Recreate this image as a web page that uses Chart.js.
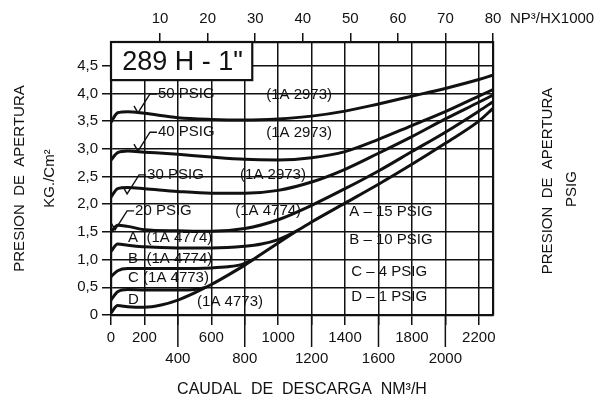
<!DOCTYPE html>
<html>
<head>
<meta charset="utf-8">
<script src="https://cdn.jsdelivr.net/npm/chart.js@4.4.1/dist/chart.umd.min.js"></script>
<style>
  html, body { margin: 0; padding: 0; background: #fff; }
</style>
</head>
<body>
<canvas id="chart" width="614" height="399"></canvas>
<script>
// Flow in NM3/H, opening pressure in kg/cm2
const flowMain = [0, 40, 100, 200, 400, 600, 800, 1000, 1200, 1400, 1600, 1800, 2000, 2200, 2285];
const psig50 = [3.48, 3.65, 3.67, 3.64, 3.56, 3.53, 3.52, 3.54, 3.59, 3.68, 3.81, 3.95, 4.09, 4.25, 4.33];
const psig40 = [2.8, 2.93, 2.96, 2.94, 2.9, 2.85, 2.81, 2.8, 2.84, 2.95, 3.17, 3.42, 3.67, 3.95, 4.07];
const psig30 = [2.13, 2.28, 2.3, 2.28, 2.23, 2.2, 2.2, 2.25, 2.4, 2.63, 2.92, 3.22, 3.54, 3.84, 3.97];
const psig20 = [1.5, 1.62, 1.6, 1.54, 1.52, 1.51, 1.56, 1.72, 1.98, 2.28, 2.6, 2.95, 3.3, 3.68, 3.85];

const flowA = [0, 40, 100, 200, 400, 600, 800, 900, 1000, 1100, 1200, 1400, 1600, 1800, 2000, 2200, 2285];
const psigA = [1.15, 1.28, 1.26, 1.23, 1.21, 1.21, 1.24, 1.28, 1.36, 1.5, 1.68, 2.02, 2.36, 2.72, 3.1, 3.5, 3.73];
const flowB = [0, 40, 100, 200, 400, 600, 700, 780, 850];
const psigB = [0.69, 0.8, 0.84, 0.84, 0.84, 0.85, 0.87, 0.91, 1.0];
const flowC = [0, 40, 100, 200, 400, 500, 570];
const psigC = [0.27, 0.42, 0.46, 0.45, 0.45, 0.46, 0.5];
const flowD = [0, 40, 100, 200, 300, 400, 500, 600, 700, 800, 900, 1000, 1100];
const psigD = [0.04, 0.17, 0.15, 0.14, 0.18, 0.27, 0.4, 0.55, 0.72, 0.9, 1.1, 1.3, 1.5];

// axis ranges / ticks
const flowMax = 2285;
const kgMax = 4.928;
const psiPerKg = 14.2233;
const topMin = -0.33, topMax = 80;   // NP3/H x 1000
const flowTicksLow = [400, 800, 1200, 1600, 2000];   // printed on the second row
const psiTicks = [10, 20, 30, 40, 50, 60];

const INK = '#111';
const FONT = 'Liberation Sans';
Chart.defaults.font.family = FONT;
Chart.defaults.font.size = 15;
Chart.defaults.color = INK;

const pts = (xs, ys) => xs.map((q, i) => ({ x: q, y: ys[i] }));

const curve = (data) => ({
    data,
    borderColor: INK,
    borderWidth: 3,
    pointRadius: 0,
    fill: false,
    cubicInterpolationMode: 'monotone'
});

// text placed inside the plot, in data coordinates (flow, kg/cm2)
const notes = [
    { text: '50 PSIG', q: 281, p: 3.99, hook: true },
    { text: '(1A 2973)', q: 928, p: 3.97 },
    { text: '40 PSIG', q: 281, p: 3.30, hook: true },
    { text: '(1A 2973)', q: 928, p: 3.29 },
    { text: '30 PSIG', q: 216, p: 2.53, hook: true },
    { text: '(1A 2973)', q: 772, p: 2.53 },
    { text: '20 PSIG', q: 144, p: 1.88, hook: true },
    { text: '(1A 4774)', q: 743, p: 1.88 },
    { text: 'A  (1A 4774)', q: 102, p: 1.39 },
    { text: 'B  (1A 4774)', q: 102, p: 1.01 },
    { text: 'C (1A 4773)', q: 102, p: 0.67 },
    { text: 'D', q: 102, p: 0.27 },
    { text: '(1A 4773)', q: 515, p: 0.23 },
    { text: 'A \u2013 15 PSIG', q: 1425, p: 1.86 },
    { text: 'B \u2013 10 PSIG', q: 1425, p: 1.35 },
    { text: 'C \u2013 4 PSIG', q: 1437, p: 0.78 },
    { text: 'D \u2013 1 PSIG', q: 1437, p: 0.32 }
];

const titleBox = {
    id: 'titleBox',
    afterDatasetsDraw(chart) {
        const { ctx, chartArea, scales } = chart;
        const right = scales.x.getPixelForValue(845);
        const bottom = scales.y.getPixelForValue(4.24);
        ctx.save();
        ctx.fillStyle = '#fff';
        ctx.fillRect(chartArea.left, chartArea.top, right - chartArea.left, bottom - chartArea.top);
        ctx.strokeStyle = INK;
        ctx.lineWidth = 2.2;
        ctx.strokeRect(chartArea.left, chartArea.top, right - chartArea.left, bottom - chartArea.top);
        ctx.fillStyle = INK;
        ctx.font = '27px ' + FONT;
        ctx.textAlign = 'center';
        ctx.textBaseline = 'middle';
        ctx.fillText('289 H - 1"', (chartArea.left + right) / 2 + 1, (chartArea.top + bottom) / 2 + 1);
        ctx.restore();
    }
};

const overlay = {
    id: 'overlay',
    afterDraw(chart) {
        const { ctx, chartArea, scales } = chart;
        const x = scales.x, y = scales.y;
        ctx.save();
        ctx.strokeStyle = INK;
        ctx.fillStyle = INK;

        // longer ticks for the lower row of flow labels
        ctx.lineWidth = 1.5;
        flowTicksLow.forEach(v => {
            const px = x.getPixelForValue(v);
            ctx.beginPath();
            ctx.moveTo(px, chartArea.bottom);
            ctx.lineTo(px, chartArea.bottom + 32);
            ctx.stroke();
        });

        // curve labels
        ctx.font = '15px ' + FONT;
        ctx.textAlign = 'left';
        ctx.textBaseline = 'middle';
        notes.forEach(n => {
            const px = x.getPixelForValue(n.q);
            const py = y.getPixelForValue(n.p);
            ctx.fillText(n.text, px, py);
            if (n.hook) {
                ctx.lineWidth = 1.4;
                ctx.beginPath();
                ctx.moveTo(px - 1, py);
                ctx.lineTo(px - 8, py);
                ctx.lineTo(px - 20, py + 19);
                ctx.lineTo(px - 24, py + 12);
                ctx.stroke();
            }
        });

        // right axis title, reading bottom to top like the left one
        ctx.textAlign = 'center';
        ctx.save();
        ctx.translate(548, 181);
        ctx.rotate(-Math.PI / 2);
        ctx.fillText('PRESION  DE  APERTURA', 0, 0);
        ctx.restore();
        ctx.save();
        ctx.translate(572, 189);
        ctx.rotate(-Math.PI / 2);
        ctx.fillText('PSIG', 0, 0);
        ctx.restore();

        // unit of the top axis
        ctx.textAlign = 'left';
        ctx.fillText('NP\u00b3/HX1000', 510, 19);
        ctx.restore();
    }
};

const tickGrid = (onArea, len) => ({
    drawOnChartArea: onArea,
    color: INK,
    lineWidth: 1.5,
    tickLength: len,
    tickWidth: 1.5,
    tickColor: INK
});
const frame = { display: true, width: 2.2, color: INK };

new Chart(document.getElementById('chart'), {
    type: 'line',
    data: {
        datasets: [
            curve(pts(flowMain, psig50)),
            curve(pts(flowMain, psig40)),
            curve(pts(flowMain, psig30)),
            curve(pts(flowMain, psig20)),
            curve(pts(flowA, psigA)),
            curve(pts(flowB, psigB)),
            curve(pts(flowC, psigC)),
            curve(pts(flowD, psigD))
        ]
    },
    options: {
        responsive: false,
        animation: false,
        layout: { padding: 0 },
        plugins: {
            legend: { display: false },
            tooltip: { enabled: false }
        },
        scales: {
            x: {
                type: 'linear',
                position: 'bottom',
                min: 0,
                max: flowMax,
                grid: tickGrid(true, 10),
                border: frame,
                ticks: {
                    stepSize: 200,
                    includeBounds: false,
                    autoSkip: false,
                    maxRotation: 0,
                    padding: 2,
                    font: { size: 15, lineHeight: 1.4 },
                    callback: v => flowTicksLow.includes(v) ? ['', String(v)] : String(v)
                },
                title: {
                    display: true,
                    text: 'CAUDAL  DE  DESCARGA  NM\u00b3/H',
                    font: { size: 16 },
                    padding: { top: 0, bottom: 0 }
                },
                afterFit: s => { s.height = 84; }
            },
            xTop: {
                type: 'linear',
                position: 'top',
                min: topMin,
                max: topMax,
                grid: tickGrid(false, 9),
                border: frame,
                ticks: {
                    stepSize: 10,
                    includeBounds: false,
                    autoSkip: false,
                    maxRotation: 0,
                    padding: 5
                },
                afterBuildTicks: s => { s.ticks = s.ticks.filter(t => t.value > 0); },
                afterFit: s => { s.height = 42; }
            },
            y: {
                type: 'linear',
                position: 'left',
                min: 0,
                max: kgMax,
                grid: tickGrid(true, 9),
                border: frame,
                ticks: {
                    stepSize: 0.5,
                    includeBounds: false,
                    autoSkip: false,
                    padding: 4,
                    callback: v => v === 0 ? '0' : v.toFixed(1).replace('.', ',')
                },
                title: {
                    display: true,
                    text: ['PRESION  DE  APERTURA', 'KG./Cm\u00b2'],
                    font: { size: 15, lineHeight: 2 },
                    padding: { top: 5, bottom: 0 }
                },
                afterFit: s => { s.width = 111; }
            },
            yPsi: {
                type: 'linear',
                position: 'right',
                min: 0,
                max: kgMax * psiPerKg,
                grid: tickGrid(false, 9),
                border: frame,
                ticks: {
                    stepSize: 10,
                    includeBounds: false,
                    autoSkip: false,
                    padding: 5
                },
                afterBuildTicks: s => { s.ticks = s.ticks.filter(t => psiTicks.includes(t.value)); },
                afterFit: s => { s.width = 121; }
            }
        }
    },
    plugins: [titleBox, overlay]
});
</script>
</body>
</html>
